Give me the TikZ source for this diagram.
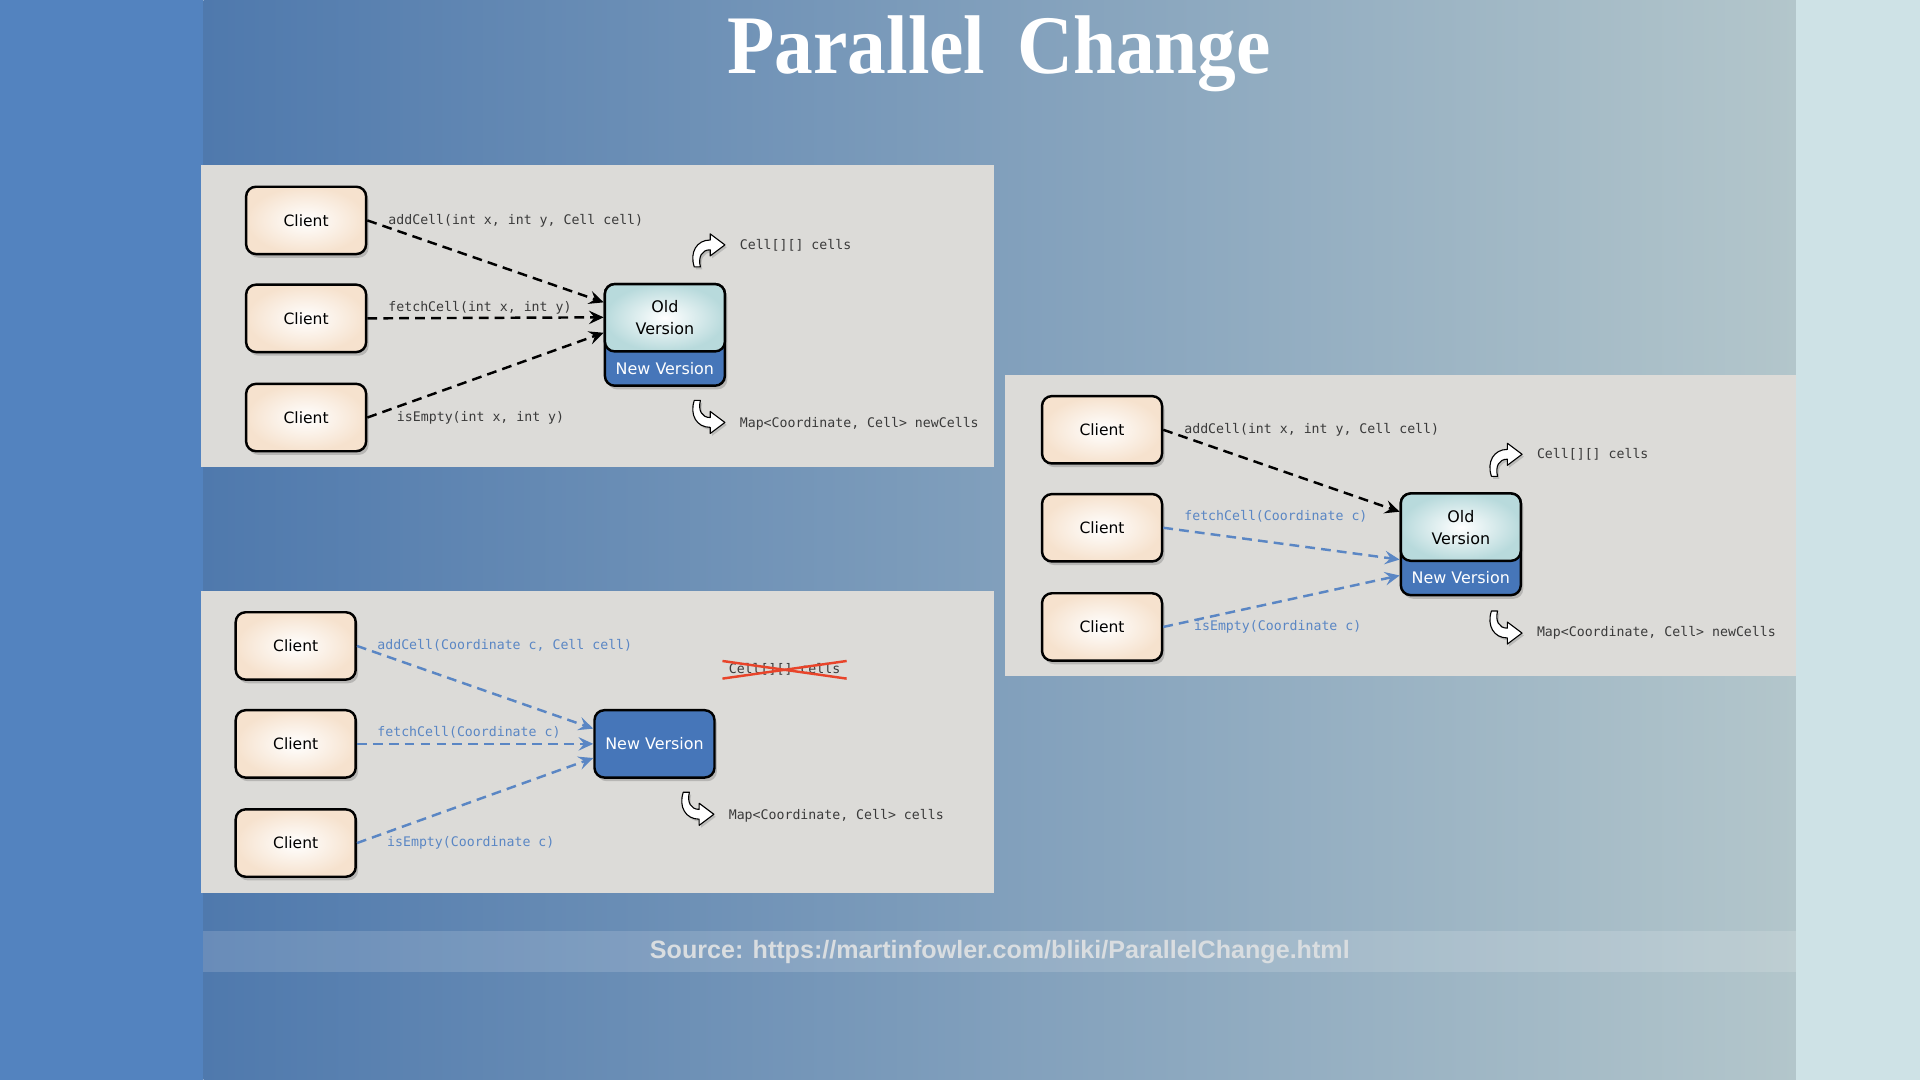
\documentclass[tikz,border=0pt]{standalone}
\usepackage{fontspec}
\usetikzlibrary{arrows.meta,shadows}
\newfontfamily\boxfont{DejaVu Sans}
\newfontfamily\codefont{DejaVu Sans Mono}
\newfontfamily\srcfont{Liberation Sans}
\newfontfamily\headfont{Liberation Serif}
\definecolor{leftband}{HTML}{5383BF}
\definecolor{rightband}{HTML}{CEE2E6}
\definecolor{slideL}{HTML}{4F79AD}
\definecolor{slideM}{HTML}{7A9CBB}
\definecolor{slideR}{HTML}{B3C6CB}
\definecolor{panelgray}{HTML}{DCDBD8}
\definecolor{clientedge}{HTML}{F6E2CE}
\definecolor{oldedge}{HTML}{B8DADC}
\definecolor{newblue}{HTML}{4676B9}
\definecolor{callblue}{HTML}{5A86C4}
\definecolor{codegray}{HTML}{3A3A3A}
\definecolor{crossred}{HTML}{E8442A}
\definecolor{srctext}{HTML}{D9DDE0}

\begin{document}
\begin{tikzpicture}[x=1pt,y=-1pt,
  boxshadow/.style={drop shadow={shadow xshift=2pt,shadow yshift=-3pt,opacity=0.4}},
  client/.style={draw=black,line width=2pt,rounded corners=8pt,minimum width=98pt,minimum height=55pt,
    inner color=white,outer color=clientedge,boxshadow,font=\boxfont\fontsize{12.7}{15}\selectfont},
  verbox/.style={draw=black,line width=2pt,rounded corners=8pt,minimum width=98pt,minimum height=83pt,
    fill=newblue,boxshadow},
  oldtop/.style={draw=black,line width=2pt,rounded corners=8pt,minimum width=98pt,minimum height=55pt,
    inner color=white,outer color=oldedge,align=center,font=\boxfont\fontsize{13}{18}\selectfont},
  newtxt/.style={text=white,inner sep=0pt,font=\boxfont\fontsize{13}{15}\selectfont},
  newbox/.style={verbox,minimum height=55pt,text=white,font=\boxfont\fontsize{13}{15}\selectfont},
  call/.style={anchor=west,inner sep=0pt,text=codegray,font=\codefont\fontsize{10.8}{12}\selectfont},
  bluecall/.style={call,text=callblue},
  oldcall/.style={draw=black,line width=2pt,dash pattern=on 8pt off 5pt,
    -{Stealth[length=12pt,width=11pt,inset=4.5pt]}},
  newcall/.style={oldcall,draw=callblue},
  swoop/.pic={
    \path[draw=black,line width=0.9pt,fill=white,line join=round,
      drop shadow={shadow xshift=1.5pt,shadow yshift=-2pt,opacity=0.35}]
      (-10,13) .. controls (-14,1) and (-8,-9) .. (3,-9) -- (3,-14) -- (15,-5) -- (3,4) -- (3,-1)
      .. controls (-4,-1) and (-7,5) .. (-5,13) -- cycle;
  }]
  \useasboundingbox (0,0) rectangle (1568,882);

  %slide background
  \shade[left color=slideL,middle color=slideM,right color=slideR] (166,0) rectangle (1467,882);
  \fill[leftband] (0,0) rectangle (166,882);
  \fill[rightband] (1467,0) rectangle (1568,882);
  \fill[white,opacity=0.15] (166,760) rectangle (1467,794);

  \node[anchor=base,text=white,font=\headfont\bfseries\fontsize{68}{72}\selectfont] (title) at (816,60)
    {\scalebox{0.93}[1]{Parallel\hspace{0.16em} Change}};
  \node[text=srctext,font=\srcfont\bfseries\fontsize{20.5}{24}\selectfont] (source) at (816.5,777.5)
    {Source: https://martinfowler.com/bliki/ParallelChange.html};

  %panels
  \fill[panelgray] (164,135) rectangle (812,381);
  \fill[panelgray] (164,483) rectangle (812,729);
  \fill[panelgray] (821,306) rectangle (1467,552);

  %first step: old and new side by side
  \node[client] (a1) at (250,180) {Client};
  \node[client] (a2) at (250,260) {Client};
  \node[client] (a3) at (250,341) {Client};
  \node[verbox] (verA) at (543,273.5) {};
  \node[oldtop] (oldA) at (543,259.5) {Old\\Version};
  \node[newtxt] (newA) at (543,301) {New Version};
  \draw[oldcall] (a1.east) -- (verA.152.5);
  \draw[oldcall] (a2.east) -- (verA.164.6);
  \draw[oldcall] (a3.east) -- (verA.178);
  \node[call] (la1) at (317,180) {addCell(int x, int y, Cell cell)};
  \node[call] (la2) at (317,251) {fetchCell(int x, int y)};
  \node[call] (la3) at (324,341) {isEmpty(int x, int y)};
  \pic (upA) at (577,205) {swoop};
  \pic[yscale=-1] (dnA) at (577,340) {swoop};
  \node[call] (fa1) at (604,200) {Cell[][] cells};
  \node[call] (fa2) at (604,346) {Map<Coordinate, Cell> newCells};

  %second step: clients move over
  \node[client] (c1) at (900,351) {Client};
  \node[client] (c2) at (900,431) {Client};
  \node[client] (c3) at (900,512) {Client};
  \node[verbox] (verC) at (1193,444.5) {};
  \node[oldtop] (oldC) at (1193,430.5) {Old\\Version};
  \node[newtxt] (newC) at (1193,472) {New Version};
  \draw[oldcall] (c1.east) -- (verC.152.5);
  \draw[newcall] (c2.east) -- (verC.194.3);
  \draw[newcall] (c3.east) -- (verC.207.5);
  \node[call] (lc1) at (967,351) {addCell(int x, int y, Cell cell)};
  \node[bluecall] (lc2) at (967,422) {fetchCell(Coordinate c)};
  \node[bluecall] (lc3) at (975,512) {isEmpty(Coordinate c)};
  \pic (upC) at (1228,376) {swoop};
  \pic[yscale=-1] (dnC) at (1228,512) {swoop};
  \node[call] (fc1) at (1255,371) {Cell[][] cells};
  \node[call] (fc2) at (1255,517) {Map<Coordinate, Cell> newCells};

  %last step: only the new version
  \node[client] (b1) at (241.5,527.5) {Client};
  \node[client] (b2) at (241.5,607.5) {Client};
  \node[client] (b3) at (241.5,688.5) {Client};
  \node[newbox] (nv) at (534.5,607.5) {New Version};
  \draw[newcall] (b1.east) -- (nv.166.7);
  \draw[newcall] (b2.east) -- (nv.west);
  \draw[newcall] (b3.east) -- (nv.193.3);
  \node[bluecall] (lb1) at (308,527) {addCell(Coordinate c, Cell cell)};
  \node[bluecall] (lb2) at (308,598) {fetchCell(Coordinate c)};
  \node[bluecall] (lb3) at (316,688) {isEmpty(Coordinate c)};
  \node[call,inner xsep=5pt,minimum height=14pt] (gone) at (590,547) {Cell[][] cells};
  \draw[crossred,line width=2pt] (gone.north west) -- (gone.south east);
  \draw[crossred,line width=2pt] (gone.south west) -- (gone.north east);
  \pic[yscale=-1] (dnB) at (568,660) {swoop};
  \node[call] (fb2) at (595,666) {Map<Coordinate, Cell> cells};
\end{tikzpicture}
\end{document}
